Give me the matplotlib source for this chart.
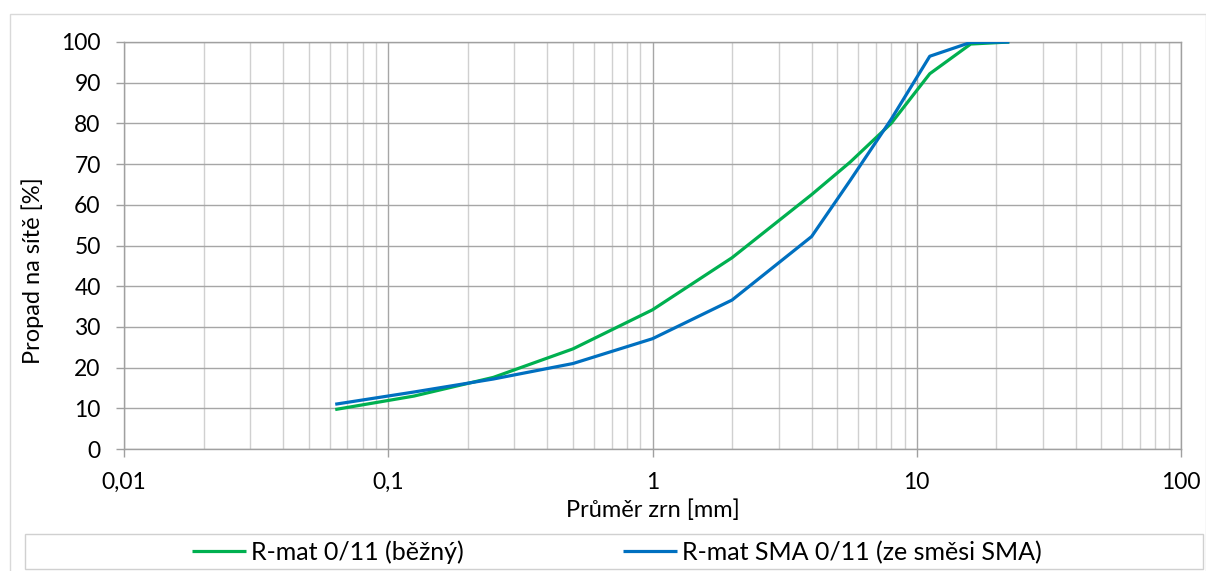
import matplotlib
matplotlib.use("Agg")
import matplotlib.pyplot as plt
from matplotlib.ticker import FixedLocator, FixedFormatter, LogLocator, NullFormatter
from matplotlib.patches import Rectangle

# Data
sieves = [0.063, 0.125, 0.25, 0.5, 1, 2, 4, 5.6, 8, 11.2, 16, 22.4]
rmat_bezny = [9.7, 13.0, 17.6, 24.6, 34.2, 47.0, 62.5, 70.5, 80.0, 92.2, 99.5, 100]
rmat_sma = [11.0, 14.0, 17.2, 21.0, 27.1, 36.6, 52.2, 66.0, 81.0, 96.5, 99.9, 100]
series_names = ["R-mat 0/11 (běžný)", "R-mat SMA 0/11 (ze směsi SMA)"]
xtick_values = [0.01, 0.1, 1, 10, 100]
xtick_labels = ["0,01", "0,1", "1", "10", "100"]
ytick_values = list(range(0, 101, 10))

plt.rcParams['font.family'] = ['Lato', 'DejaVu Sans']

W, H = 1206, 571
fig = plt.figure(figsize=(W / 100, H / 100), dpi=100)
ax = fig.add_axes([124 / W, 1 - 449 / H, (1181 - 124) / W, (449 - 42) / H])

green = "#00B050"
blue = "#0070C0"
ax.plot(sieves, rmat_bezny, color=green, lw=2.3, label=series_names[0], zorder=3, solid_capstyle='butt')
ax.plot(sieves, rmat_sma, color=blue, lw=2.3, label=series_names[1], zorder=4, solid_capstyle='butt')

ax.set_xscale("log")
ax.set_xlim(0.01, 100)
ax.set_ylim(0, 100)
ax.xaxis.set_major_locator(FixedLocator(xtick_values))
ax.xaxis.set_major_formatter(FixedFormatter(xtick_labels))
ax.xaxis.set_minor_locator(LogLocator(base=10, subs=range(2, 10)))
ax.xaxis.set_minor_formatter(NullFormatter())
ax.yaxis.set_major_locator(FixedLocator(ytick_values))

ax.grid(which='major', axis='both', color='#a6a6a6', lw=1.0, zorder=1)
ax.grid(which='minor', axis='x', color='#d0d0d0', lw=1.0, zorder=0)
ax.set_axisbelow(True)
for s in ax.spines.values():
    s.set_color('#a0a0a0')
    s.set_linewidth(1.0)

TICK_FS = 16.5
LAB_FS = 17
LEG_FS = 18
ax.tick_params(axis='both', which='major', direction='out', length=5.8, width=1.0,
               color='#a0a0a0', labelsize=TICK_FS, labelcolor='black')
ax.tick_params(axis='y', which='major', pad=11)
ax.tick_params(axis='x', which='major', pad=11)
ax.tick_params(axis='x', which='minor', length=0)

ax.set_xlabel("Průměr zrn [mm]", fontsize=LAB_FS, labelpad=4)
ax.set_ylabel("Propad na sítě [%]", fontsize=LAB_FS)
ax.yaxis.set_label_coords(-(124 - 33) / (1181 - 124), (449 - 271) / (449 - 42))
ax.yaxis.label.set_verticalalignment('center')

# outer chart border
fig.patches.append(Rectangle((10 / W, -0.01), (W - 10.5) / W, 1 - 14 / H + 0.01, transform=fig.transFigure,
                             fill=False, edgecolor='#d9d9d9', lw=1.0, zorder=0))
# legend box
fig.patches.append(Rectangle((25 / W, 1 - 569 / H), (1203 - 25) / W, (569 - 534) / H,
                             transform=fig.transFigure, fill=False, edgecolor='#d0d0d0', lw=1.0, zorder=0))

leg = fig.legend(loc='center', bbox_to_anchor=(617 / W, 1 - 552 / H), ncol=2, frameon=False,
                 fontsize=LEG_FS, handlelength=2.15, handletextpad=0.2, columnspacing=6.4,
                 borderpad=0)

fig.savefig("out.png", dpi=100)
